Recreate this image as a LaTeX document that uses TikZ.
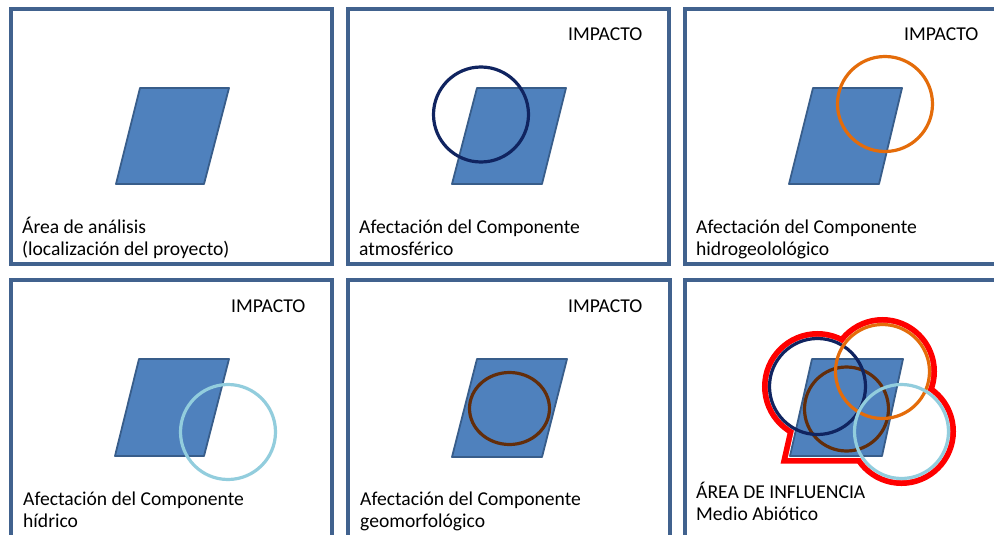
\documentclass[tikz,border=0pt]{standalone}
\usepackage{fontspec}
\setmainfont{Carlito}
\definecolor{marco}{RGB}{65,98,142}
\definecolor{lotefill}{RGB}{79,129,189}
\definecolor{lotedraw}{RGB}{56,93,138}
\definecolor{atmosf}{RGB}{16,36,96}
\definecolor{hidrogeo}{RGB}{228,108,10}
\definecolor{hidrico}{RGB}{146,205,221}
\definecolor{geomorf}{RGB}{99,45,10}
\tikzset{
  panel/.style={draw=marco,line width=4pt},
  lote/.style={fill=lotefill,draw=lotedraw,line width=1.8pt,line join=round},
  impacto/.style={line width=3.2pt},
  rotulo/.style={anchor=base west,align=left,inner sep=0pt,font=\fontsize{19.6}{22}\selectfont},
  influencia/.style={draw=red,line width=15pt},
  tapa/.style={draw=white,fill=white,line width=3.5pt},
}

\begin{document}
\begin{tikzpicture}[x=1pt,y=-1pt]
    \useasboundingbox (0,0) rectangle (994,535);
    \fill[white] (0,0) rectangle (994,535);

    \draw[panel] (11,9) rectangle (332,264);
    \draw[lote] (140,88) -- (229,88) -- (204,184) -- (116,184) -- cycle;
    \node[rotulo] (t1) at (22,255) {Área de análisis\\(localización del proyecto)};

    \draw[panel] (348,9) rectangle (669,264);
    \node[rotulo] (imp2) at (568,41) {IMPACTO};
    \draw[lote] (477,88) -- (566,88) -- (542,184) -- (452,184) -- cycle;
    \draw[impacto,atmosf] (481,114.5) circle[radius=47.5pt];
    \node[rotulo] (t2) at (359,255) {Afectación del Componente\\atmosférico};

    \draw[panel] (685,9) rectangle (1002,264);
    \node[rotulo] (imp3) at (904,41) {IMPACTO};
    \draw[lote] (813,88) -- (902,88) -- (879,184) -- (789,184) -- cycle;
    \draw[impacto,hidrogeo] (885,104) circle[radius=47.5pt];
    \node[rotulo] (t3) at (696,255) {Afectación del Componente\\hidrogeolológico};

    \draw[panel] (11,280) rectangle (332,536.5);
    \node[rotulo] (imp4) at (231,312) {IMPACTO};
    \draw[lote] (139,359) -- (229,359) -- (204,456) -- (115,456) -- cycle;
    \draw[impacto,hidrico] (228,432) circle[radius=47.5pt];
    \node[rotulo] (t4) at (23,527) {Afectación del Componente\\hídrico};

    \draw[panel] (348,280) rectangle (670,536.5);
    \node[rotulo] (imp5) at (568,312) {IMPACTO};
    \draw[lote] (477,359) -- (567,359) -- (542,457) -- (452,457) -- cycle;
    \draw[impacto,geomorf] (509.5,408.5) ellipse[x radius=40pt,y radius=36pt];
    \node[rotulo] (t5) at (360,527) {Afectación del Componente\\geomorfológico};

    \draw[panel] (685,280) rectangle (1002,536.5);
    \draw[influencia] (817.5,386.5) circle[radius=48pt];
    \draw[influencia] (882.5,371.5) circle[radius=47pt];
    \draw[influencia] (901.5,431.5) circle[radius=47pt];
    \draw[influencia] (812,359) -- (903,359) -- (882,456) -- (790,456) -- cycle;
    \filldraw[tapa] (817.5,386.5) circle[radius=48pt];
    \filldraw[tapa] (882.5,371.5) circle[radius=47pt];
    \filldraw[tapa] (901.5,431.5) circle[radius=47pt];
    \filldraw[tapa] (812,359) -- (903,359) -- (882,456) -- (790,456) -- cycle;
    \draw[lote] (812,359) -- (903,359) -- (882,456) -- (790,456) -- cycle;
    \draw[impacto,geomorf] (846.5,409) circle[radius=42pt];
    \draw[impacto,atmosf] (817.5,386.5) circle[radius=48pt];
    \draw[impacto,hidrogeo] (882.5,371.5) circle[radius=47pt];
    \draw[impacto,hidrico] (901.5,431.5) circle[radius=47pt];
    \node[rotulo] (t6) at (696,520) {ÁREA DE INFLUENCIA\\Medio Abiótico};
\end{tikzpicture}
\end{document}
